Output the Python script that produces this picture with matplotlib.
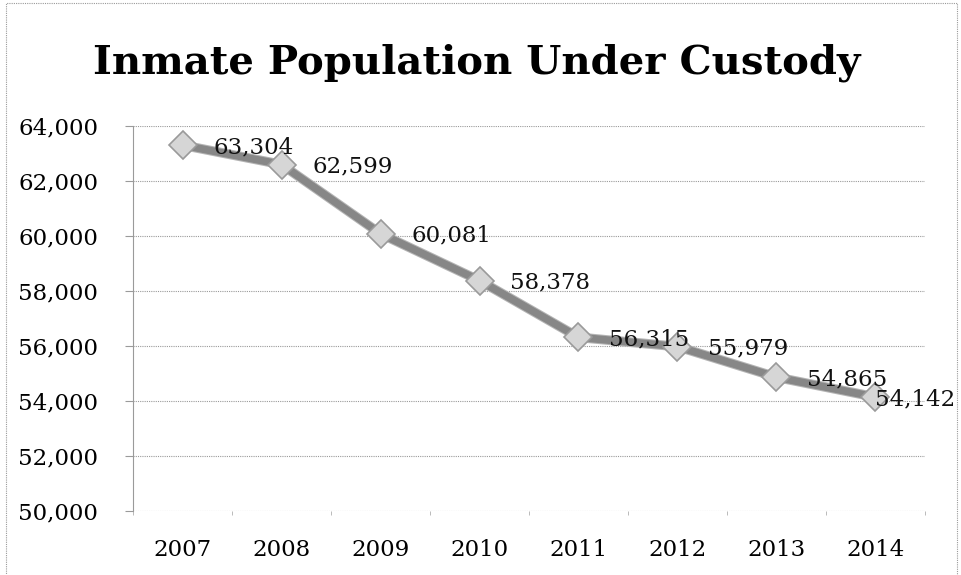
import matplotlib.pyplot as plt
import matplotlib.patheffects as pe
import numpy as np

years = ['2007', '2008', '2009', '2010', '2011', '2012', '2013', '2014']
inmates = [63304, 62599, 60081, 58378, 56315, 55979, 54865, 54142]
y_ticks = [50000, 52000, 54000, 56000, 58000, 60000, 62000, 64000]

plt.rcParams['font.family'] = ['DejaVu Serif']

fig = plt.figure(figsize=(9.62, 5.75), dpi=100)
ax = fig.add_axes([0.1383, 0.1113, 0.8232, 0.6696])

x = np.arange(len(years))

# thick grey line with diamond markers
ax.plot(x, inmates, color='#878787', linewidth=5.5, zorder=3,
        path_effects=[pe.Stroke(linewidth=7, foreground='#b5b5b5'), pe.Normal()])
ax.plot(x, inmates, linestyle='none', marker='D', markersize=14,
        markerfacecolor='#d6d6d6', markeredgecolor='#9a9a9a', markeredgewidth=1.2, zorder=4)

for i in range(len(years)):
    dx = 22
    if i == len(years) - 1:
        dx = 0
    ax.annotate(f'{inmates[i]:,}', (x[i], inmates[i]), xytext=(dx, -1.5),
                textcoords='offset points', ha='left', va='center',
                fontsize=16.5, color='#111111', zorder=5)

ax.set_xlim(-0.5, len(years) - 0.5)
ax.set_ylim(50000, 64000)
ax.set_yticks(y_ticks)
ax.set_yticklabels([f'{v:,}' for v in y_ticks])
ax.set_xticks(x)
ax.set_xticklabels(years)
ax.set_xticks(np.arange(len(years) + 1) - 0.5, minor=True)

ax.grid(axis='y', color='#9a9a9a', linestyle=(0, (1, 1)), linewidth=0.8)
ax.set_axisbelow(True)
for side in ['top', 'right', 'bottom']:
    ax.spines[side].set_visible(False)
ax.spines['left'].set_color('#9a9a9a')
ax.spines['left'].set_linestyle((0, (1, 1)))
ax.spines['left'].set_linewidth(0.8)

ax.tick_params(axis='y', length=6, color='#9a9a9a', pad=19, labelsize=16.5)
ax.tick_params(axis='x', which='major', length=0, pad=20, labelsize=16.5)
ax.tick_params(axis='x', which='minor', length=3, color='#b0b0b0')

fig.text(0.495, 0.89, 'Inmate Population Under Custody', ha='center', va='center',
         fontsize=29, fontweight='bold', color='#000000')

# dotted frame around the chart
frame = plt.Rectangle((0.006, -0.01), 0.989, 1.004, transform=fig.transFigure,
                      fill=False, edgecolor='#9a9a9a', linestyle=(0, (1, 1)), linewidth=0.8)
fig.add_artist(frame)

fig.savefig('out.png', dpi=100)
